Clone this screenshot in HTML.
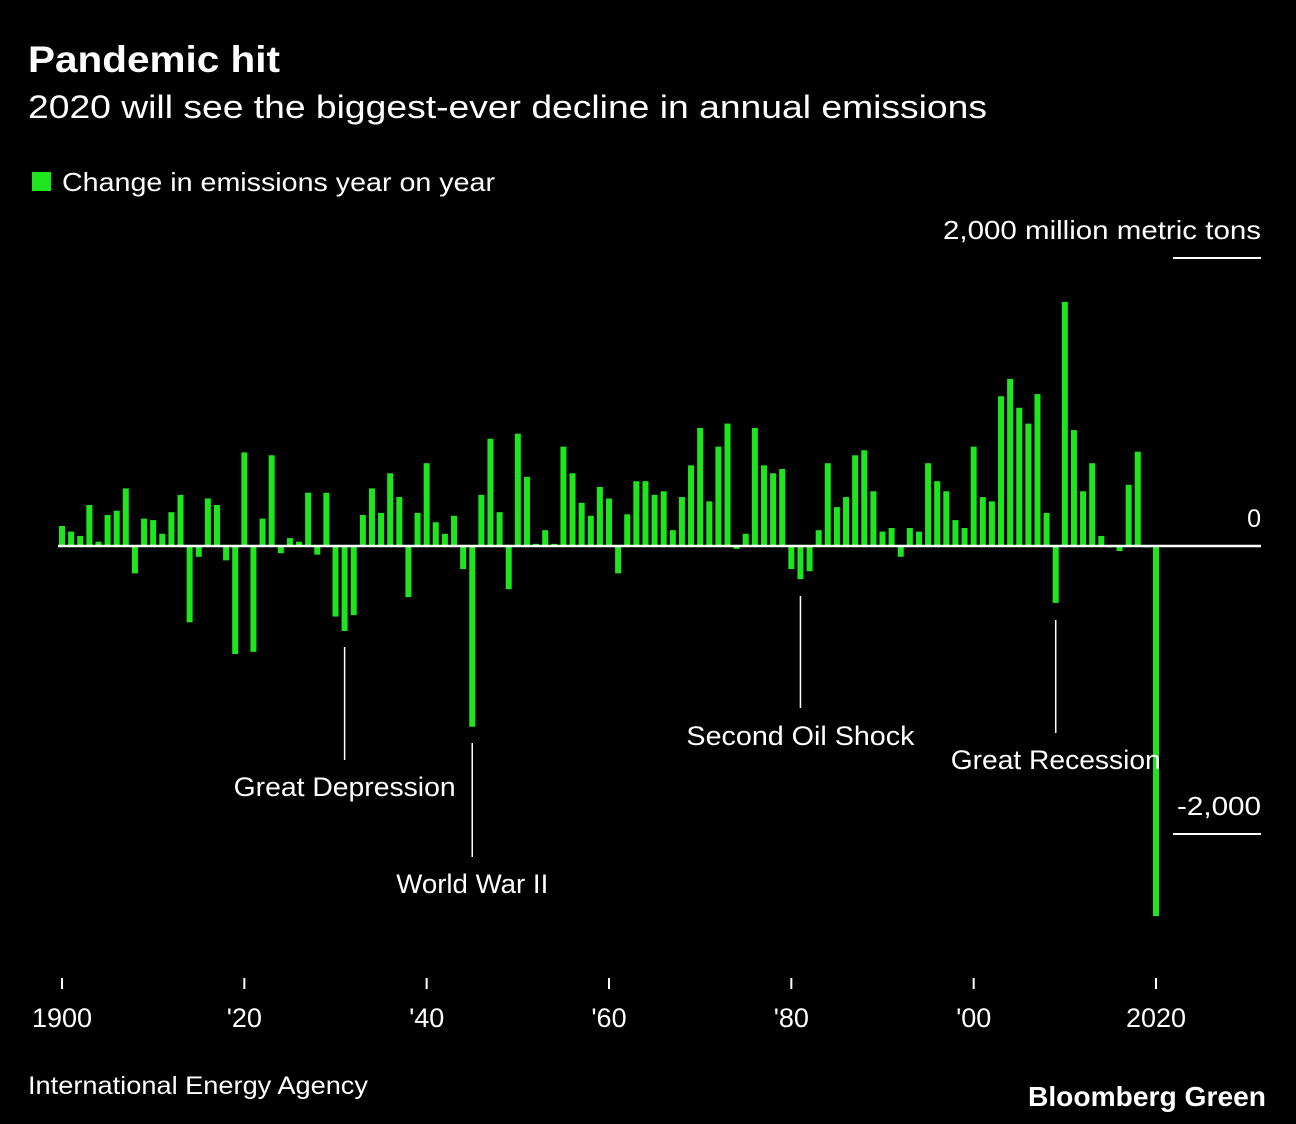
<!DOCTYPE html>
<html><head><meta charset="utf-8"><style>
body{margin:0;background:#000;width:1296px;height:1124px;overflow:hidden;font-family:"Liberation Sans",sans-serif;color:#fff}
svg{position:absolute;left:0;top:0}
</style></head><body>
<svg width="1296" height="1124">
<text x="28" y="72" font-size="37" font-weight="bold" fill="#fff" textLength="252" lengthAdjust="spacingAndGlyphs">Pandemic hit</text>
<text x="28" y="118" font-size="32" fill="#fff" textLength="959" lengthAdjust="spacingAndGlyphs">2020 will see the biggest-ever decline in annual emissions</text>
<rect x="32" y="172" width="19" height="19" fill="#1ee51e"/>
<text x="62" y="191" font-size="26" fill="#fff" textLength="433" lengthAdjust="spacingAndGlyphs">Change in emissions year on year</text>
<g id="bars"></g>
<g id="axes"></g>
<text x="28" y="1094" font-size="25" fill="#fff" textLength="340" lengthAdjust="spacingAndGlyphs">International Energy Agency</text>
<text x="1028" y="1106" font-size="28" font-weight="bold" fill="#fff" textLength="238" lengthAdjust="spacingAndGlyphs">Bloomberg Green</text>
</svg>
<script>
const startYear = 1900;
const values = [139,100,70,285,30,215,245,400,-190,190,180,85,235,355,-530,-75,330,285,-100,-750,
650,-735,190,630,-50,55,30,370,-60,370,-490,-590,-480,215,400,230,505,340,-355,230,
575,165,85,210,-160,-1255,355,745,235,-300,780,480,15,110,15,690,505,300,210,410,
330,-190,220,450,450,355,380,110,340,560,820,310,690,850,-20,85,820,560,505,535,
-160,-230,-175,110,575,270,340,630,665,380,100,125,-75,125,100,575,450,380,180,125,
690,340,310,1040,1160,960,850,1055,230,-395,1695,805,380,575,70,-10,-35,425,655,-10,-2570];
const yTicks = [2000, 0, -2000];
const xTickYears = [1900,1920,1940,1960,1980,2000,2020];
const xTickLabels = ["1900","'20","'40","'60","'80","'00","2020"];
const annotations = [
 {year:1931,label:"Great Depression",y1:647,y2:760,ty:796,w:222},
 {year:1945,label:"World War II",y1:743,y2:857,ty:893,w:152},
 {year:1981,label:"Second Oil Shock",y1:596,y2:708,ty:745,w:228},
 {year:2009,label:"Great Recession",y1:620,y2:733,ty:769,w:210}
];
const NS="http://www.w3.org/2000/svg";
const x = yr => 62 + (yr-1900)*(1094/120);
const y = v => 546 - v*0.144;
function mk(tag,attrs,parent){const e=document.createElementNS(NS,tag);for(const k in attrs)e.setAttribute(k,attrs[k]);parent.appendChild(e);return e;}
const bars=document.getElementById('bars'), axes=document.getElementById('axes');
values.forEach((v,i)=>{
 const yr=startYear+i;
 const r=mk('rect',{x:x(yr)-3,y:Math.min(y(v),y(0)),width:6,height:Math.max(Math.abs(y(v)-y(0)),0.8),fill:'#1ee51e'},bars);
 
 
});
const zl=mk('line',{x1:58,x2:1261,y1:y(0),y2:y(0),stroke:'#fff','stroke-width':2.5},axes);


const z=mk('text',{x:1261,y:y(0)-19,'font-size':25,fill:'#fff','text-anchor':'end'},axes);z.textContent='0';


[2000,-2000].forEach(v=>{
 const l=mk('line',{x1:1173,x2:1261,y1:y(v),y2:y(v),stroke:'#fff','stroke-width':2},axes);
 
 
 const t=mk('text',{x:1261,y:y(v)-19,'font-size':26,fill:'#fff','text-anchor':'end',lengthAdjust:'spacingAndGlyphs',textLength: v>0?318:84},axes);
 t.textContent = v>0 ? '2,000  million metric tons' : '-2,000';
 t.setAttribute('xml:space','preserve');
 
 
});
xTickYears.forEach((yr,i)=>{
 const l=mk('line',{x1:x(yr),x2:x(yr),y1:978,y2:989,stroke:'#fff','stroke-width':2},axes);
 
 
 const t=mk('text',{x:x(yr),y:1027,'font-size':27,fill:'#fff','text-anchor':'middle'},axes);
 t.textContent=xTickLabels[i];
 
 
});
annotations.forEach(a=>{
 const l=mk('line',{x1:x(a.year),x2:x(a.year),y1:a.y1,y2:a.y2,stroke:'#fff','stroke-width':1.5},axes);
 
 
 const t=mk('text',{x:x(a.year),y:a.ty,'font-size':27,fill:'#fff','text-anchor':'middle',textLength:a.w,lengthAdjust:'spacingAndGlyphs'},axes);
 t.textContent=a.label;
 
 
});
</script>
</body></html>
